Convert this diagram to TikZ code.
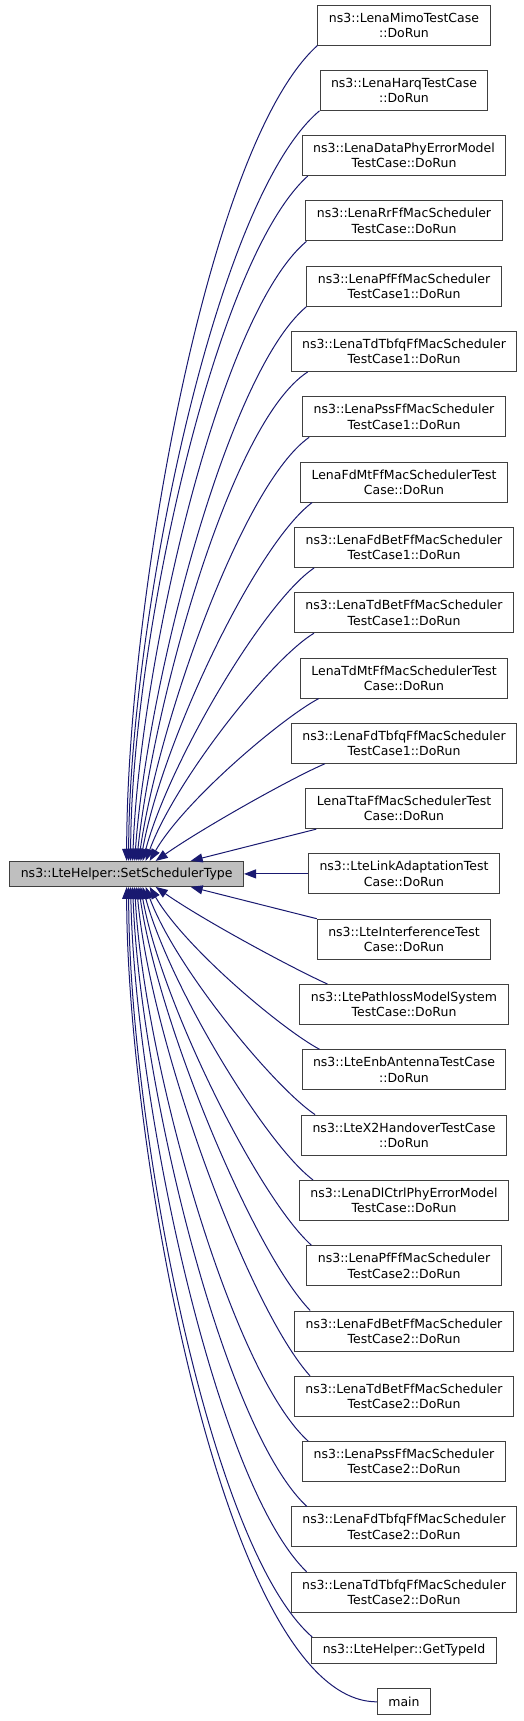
\documentclass[tikz,border=0pt]{standalone}
\usepackage{fontspec}
\setmainfont{DejaVu Sans}
\usepackage{xcolor}
\usepackage{tikz}
\usetikzlibrary{arrows.meta,positioning}

\definecolor{edgeblue}{HTML}{191970}
\definecolor{focusgray}{HTML}{BFBFBF}

\begin{document}
\begin{tikzpicture}[
    x=1pt, y=1pt,
    node distance=24.3pt and 64pt,
    fn/.style={draw=black!75, line width=1pt, fill=white, minimum height=40pt,
               inner xsep=11pt, inner ysep=0pt, align=center,
               font=\fontsize{12.5pt}{15.3pt}\selectfont},
    fnshort/.style={fn, minimum height=26pt},
    focus/.style={fn, minimum height=25pt, fill=focusgray},
    call/.style={draw=edgeblue, line width=1pt, -{Triangle[length=12pt,width=9pt]},
                 out looseness=0.46, in looseness=0.76}
]
\useasboundingbox (0,0) rectangle (523,-1721);

\node[fn]                        (mimo)      at (404,-25) {ns3::LenaMimoTestCase\\::DoRun};
\node[fn,      below=of mimo]      (harq)      {ns3::LenaHarqTestCase\\::DoRun};
\node[fn,      below=of harq]      (dataphy)   {ns3::LenaDataPhyErrorModel\\TestCase::DoRun};
\node[fn,      below=of dataphy]   (rrff)      {ns3::LenaRrFfMacScheduler\\TestCase::DoRun};
\node[fn,      below=of rrff]      (pfone)     {ns3::LenaPfFfMacScheduler\\TestCase1::DoRun};
\node[fn,      below=of pfone]     (tdtbone)   {ns3::LenaTdTbfqFfMacScheduler\\TestCase1::DoRun};
\node[fn,      below=of tdtbone]   (pssone)    {ns3::LenaPssFfMacScheduler\\TestCase1::DoRun};
\node[fn,      below=of pssone]    (fdmt)      {LenaFdMtFfMacSchedulerTest\\Case::DoRun};
\node[fn,      below=of fdmt]      (fdbetone)  {ns3::LenaFdBetFfMacScheduler\\TestCase1::DoRun};
\node[fn,      below=of fdbetone]  (tdbetone)  {ns3::LenaTdBetFfMacScheduler\\TestCase1::DoRun};
\node[fn,      below=of tdbetone]  (tdmt)      {LenaTdMtFfMacSchedulerTest\\Case::DoRun};
\node[fn,      below=of tdmt]      (fdtbone)   {ns3::LenaFdTbfqFfMacScheduler\\TestCase1::DoRun};
\node[fn,      below=of fdtbone]   (tta)       {LenaTtaFfMacSchedulerTest\\Case::DoRun};
\node[fn,      below=of tta]       (linkadapt) {ns3::LteLinkAdaptationTest\\Case::DoRun};
\node[fn,      below=of linkadapt] (interf)    {ns3::LteInterferenceTest\\Case::DoRun};
\node[fn,      below=of interf]    (pathloss)  {ns3::LtePathlossModelSystem\\TestCase::DoRun};
\node[fn,      below=of pathloss]  (enbant)    {ns3::LteEnbAntennaTestCase\\::DoRun};
\node[fn,      below=of enbant]    (xtwo)      {ns3::LteX2HandoverTestCase\\::DoRun};
\node[fn,      below=of xtwo]      (dlctrl)    {ns3::LenaDlCtrlPhyErrorModel\\TestCase::DoRun};
\node[fn,      below=of dlctrl]    (pftwo)     {ns3::LenaPfFfMacScheduler\\TestCase2::DoRun};
\node[fn,      below=of pftwo]     (fdbettwo)  {ns3::LenaFdBetFfMacScheduler\\TestCase2::DoRun};
\node[fn,      below=of fdbettwo]  (tdbettwo)  {ns3::LenaTdBetFfMacScheduler\\TestCase2::DoRun};
\node[fn,      below=of tdbettwo]  (psstwo)    {ns3::LenaPssFfMacScheduler\\TestCase2::DoRun};
\node[fn,      below=of psstwo]    (fdtbtwo)   {ns3::LenaFdTbfqFfMacScheduler\\TestCase2::DoRun};
\node[fn,      below=of fdtbtwo]   (tdtbtwo)   {ns3::LenaTdTbfqFfMacScheduler\\TestCase2::DoRun};
\node[fnshort, below=of tdtbtwo]   (gettype)   {ns3::LteHelper::GetTypeId};
\node[fnshort, below=of gettype]   (mainfn)    {main};
\node[focus,   left=of linkadapt]  (setsched)  {ns3::LteHelper::SetSchedulerType};

\draw[call] (mimo.south west)                to[out=222, in=90] ([xshift=0pt]setsched.north);
\draw[call] (harq.south west)                to[out=220, in=90] ([xshift=2pt]setsched.north);
\draw[call] ([xshift=6pt]dataphy.south west) to[out=222, in=90] ([xshift=4pt]setsched.north);
\draw[call] ([xshift=1pt]rrff.south west)    to[out=220, in=88] ([xshift=6pt]setsched.north);
\draw[call] (pfone.south west)               to[out=220, in=86] ([xshift=8pt]setsched.north);
\draw[call] ([xshift=17pt]tdtbone.south west) to[out=213, in=84] ([xshift=10pt]setsched.north);
\draw[call] ([xshift=7pt]pssone.south west)  to[out=215, in=82] ([xshift=12pt]setsched.north);
\draw[call] ([xshift=12pt]fdmt.south west)   to[out=217, in=80] ([xshift=14pt]setsched.north);
\draw[call] ([xshift=20pt]fdbetone.south west) to[out=214, in=75] ([xshift=16pt]setsched.north);
\draw[call] ([xshift=20pt]tdbetone.south west) to[out=211, in=70] ([xshift=19pt]setsched.north);
\draw[call] ([xshift=19pt]tdmt.south west)   to[out=208, in=60] ([xshift=23pt]setsched.north);
\draw[call] ([xshift=34pt]fdtbone.south west) to[out=203, in=35] ([xshift=29pt]setsched.north);
\draw[call] ([xshift=11pt]tta.south west)    -- ([xshift=64pt]setsched.north);
\draw[call] (linkadapt) -- (setsched);
\draw[call] (interf.north west)              -- ([xshift=64pt]setsched.south);
\draw[call] ([xshift=28pt]pathloss.north west) to[out=156, in=325] ([xshift=29pt]setsched.south);
\draw[call] ([xshift=18pt]enbant.north west) to[out=152, in=300] ([xshift=23pt]setsched.south);
\draw[call] ([xshift=14pt]xtwo.north west)   to[out=146, in=290] ([xshift=19pt]setsched.south);
\draw[call] ([xshift=14pt]dlctrl.north west) to[out=143, in=285] ([xshift=16pt]setsched.south);
\draw[call] ([xshift=5pt]pftwo.north west)   to[out=138, in=280] ([xshift=14pt]setsched.south);
\draw[call] ([xshift=16pt]fdbettwo.north west) to[out=134, in=278] ([xshift=12pt]setsched.south);
\draw[call] ([xshift=16pt]tdbettwo.north west) to[out=132, in=275] ([xshift=10pt]setsched.south);
\draw[call] ([xshift=6pt]psstwo.north west)  to[out=138, in=273] ([xshift=8pt]setsched.south);
\draw[call] ([xshift=16pt]fdtbtwo.north west) to[out=137, in=272] ([xshift=6pt]setsched.south);
\draw[call] ([xshift=16pt]tdtbtwo.north west) to[out=136, in=271] ([xshift=4pt]setsched.south);
\draw[call] ([xshift=1pt]gettype.north west) to[out=139, in=270] ([xshift=2pt]setsched.south);
\draw[call] (mainfn.west)                    to[out=180, in=270] ([xshift=0pt]setsched.south);
\end{tikzpicture}
\end{document}
